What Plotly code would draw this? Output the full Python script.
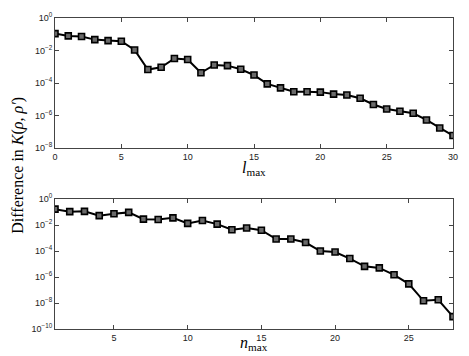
import plotly.graph_objects as go
from plotly.subplots import make_subplots

l_max = list(range(0, 31))
l_log10_diff = [-0.96, -1.10, -1.14, -1.33, -1.39, -1.43, -1.97, -3.17, -3.03, -2.49,
                -2.55, -3.37, -2.89, -2.93, -3.15, -3.51, -4.05, -4.30, -4.54, -4.54,
                -4.56, -4.68, -4.74, -4.94, -5.32, -5.60, -5.74, -5.86, -6.27, -6.77, -7.23]
n_max = list(range(1, 29))
n_log10_diff = [-0.78, -0.975, -0.95, -1.28, -1.13, -1.03, -1.55, -1.58, -1.45, -1.875,
                -1.65, -1.93, -2.36, -2.23, -2.40, -3.08, -3.08, -3.35, -4.00, -4.08,
                -4.58, -5.18, -5.30, -5.83, -6.53, -7.83, -7.75, -9.05]

l_diff = [10 ** v for v in l_log10_diff]
n_diff = [10 ** v for v in n_log10_diff]

top_ytick_exp = [0, -2, -4, -6, -8]
bot_ytick_exp = [0, -2, -4, -6, -8, -10]

def sup(e):
    return "10<sup>" + (str(e) if e >= 0 else "\u2212" + str(-e)) + "</sup>"

fig = make_subplots(rows=2, cols=1)

line_style = dict(color="black", width=2)
marker_style = dict(symbol="square", size=6, color="#6a6a6a",
                    line=dict(color="black", width=1.6))

fig.add_trace(go.Scatter(x=l_max, y=l_diff, mode="lines+markers",
                         line=line_style, marker=marker_style, showlegend=False), row=1, col=1)
fig.add_trace(go.Scatter(x=n_max, y=n_diff, mode="lines+markers",
                         line=line_style, marker=marker_style, showlegend=False), row=2, col=1)

tickfont = dict(family="Liberation Sans, Arial, sans-serif", size=9, color="#222")
axis_common = dict(showline=True, linecolor="#444", linewidth=1, mirror="ticks",
                   ticks="inside", ticklen=4, tickcolor="#444", showgrid=False,
                   zeroline=False, tickfont=tickfont)

fig.update_layout(
    width=469, height=356,
    margin=dict(l=55, r=11, t=11, b=27),
    plot_bgcolor="white", paper_bgcolor="white",
    xaxis=dict(domain=[0, 1], range=[0, 30], tickvals=[0, 5, 10, 15, 20, 25, 30], **axis_common),
    yaxis=dict(domain=[0.5818, 1.0], type="log", range=[-8, 0],
               tickvals=[10 ** e for e in top_ytick_exp],
               ticktext=[sup(e) for e in top_ytick_exp], **axis_common),
    xaxis2=dict(domain=[0, 1], range=[1, 28], tickvals=[5, 10, 15, 20, 25], **axis_common),
    yaxis2=dict(domain=[0.0, 0.418], type="log", range=[-10, 0],
                tickvals=[10 ** e for e in bot_ytick_exp],
                ticktext=[sup(e) for e in bot_ytick_exp], **axis_common),
)

serif = "Liberation Serif, DejaVu Serif, serif"
fig.add_annotation(text="<i>l</i><sub>max</sub>", xref="paper", yref="paper",
                   x=0.5, y=0.5818, yshift=-20, showarrow=False, yanchor="middle",
                   font=dict(family=serif, size=16, color="black"))
fig.add_annotation(text="<i>n</i><sub>max</sub>", xref="paper", yref="paper",
                   x=0.5, y=0.0, yshift=-14, showarrow=False, yanchor="middle",
                   font=dict(family=serif, size=16, color="black"))
fig.add_annotation(text="Difference in <i>K</i>(<i>\u03c1</i>, <i>\u03c1\u2032</i>)",
                   xref="paper", yref="paper", x=0, xshift=-37, y=0.525,
                   textangle=-90, showarrow=False, xanchor="center", yanchor="middle",
                   font=dict(family=serif, size=16, color="black"))

fig.write_html("out.html", config={"displayModeBar": False},
               post_script="document.body.style.margin='0';")
